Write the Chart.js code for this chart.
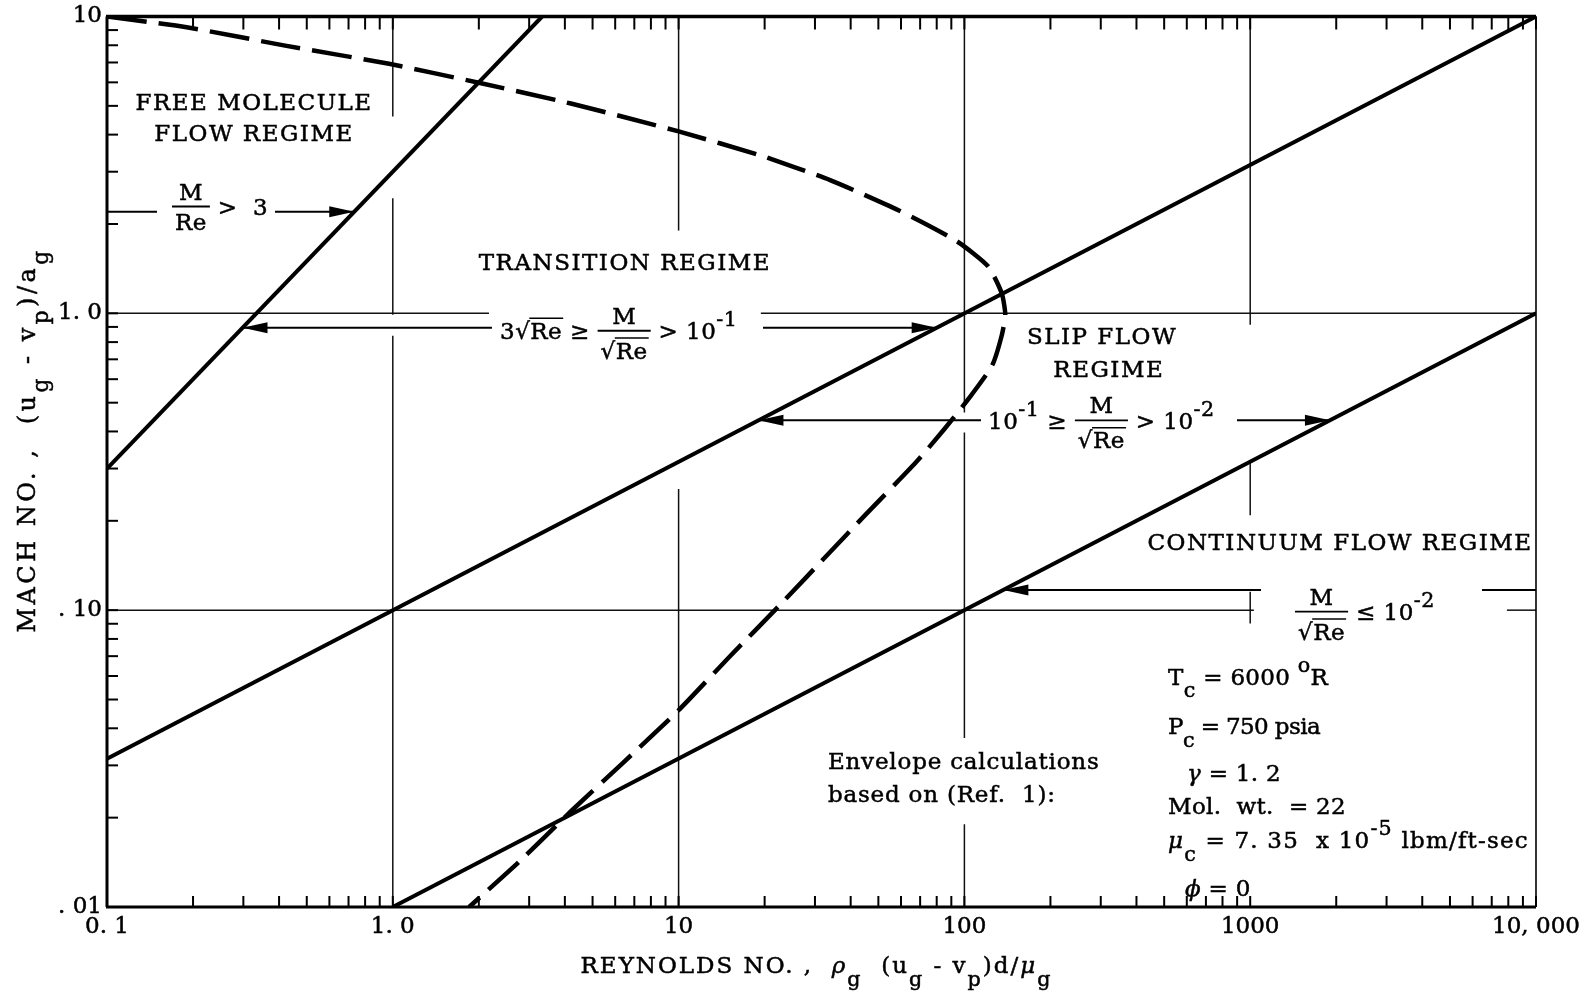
<!DOCTYPE html>
<html>
<head>
<meta charset="utf-8">
<title>Flow regimes</title>
<script src="https://cdn.jsdelivr.net/npm/chart.js@4.4.1/dist/chart.umd.min.js"></script>
<style>
  html, body { margin: 0; padding: 0; background: #fff; }
  canvas { display: block; }
</style>
</head>
<body>
<canvas id="chart" width="1593" height="1001"></canvas>
<script>
// plot limits
const reLimits = [0.1, 10000];
const machLimits = [0.01, 10];

// decade labels as printed on the axes
const reTickText = { 0.1: '0. 1', 1: '1. 0', 10: '10', 100: '100', 1000: '1000', 10000: '10, 000' };
const machTickText = { 0.01: '. 01', 0.1: '. 10', 1: '1. 0', 10: '10' };

// regime boundaries, straight on log-log paper so two ends are enough
const freeMolRe = [0.1, 3.33];        // M/Re = 3
const freeMolMach = [0.3, 10];
const slipUpperRe = [0.1, 10000];     // M/sqrt(Re) = 1e-1
const slipUpperMach = [0.0316, 10];
const slipLowerRe = [1, 10000];       // M/sqrt(Re) = 1e-2
const slipLowerMach = [0.01, 1];

// operating envelope (dashed curve)
const envelopeRe = [0.1, 0.19, 0.42, 0.97, 2.0, 4.2, 10, 19.4, 33.9, 59, 94, 121, 135, 139,
  135, 125, 103, 85, 67.7, 44.5, 33.9, 22.6, 15.1, 10, 6.39, 4.22, 2.79, 1.85];
const envelopeMach = [10, 9.2, 7.98, 6.93, 5.98, 5.09, 4.10, 3.40, 2.81, 2.22, 1.75, 1.44, 1.17, 0.99,
  0.84, 0.667, 0.513, 0.407, 0.315, 0.207, 0.157, 0.104, 0.0698, 0.046, 0.0306, 0.0211, 0.0143, 0.01];

// Mach levels of the leader arrows
const leaderMach = [2.2, 0.894, 0.436, 0.117];

const boundaries = [
  [freeMolRe, freeMolMach],
  [slipUpperRe, slipUpperMach],
  [slipLowerRe, slipLowerMach],
];

// leaders: tail Re next to the text, tip either a fixed Re or the boundary it points at
const leaders = [
  { m: leaderMach[0], tail: 0.1, tip: 0.1496, head: false },
  { m: leaderMach[0], tail: 0.387, onto: 0 },
  { m: leaderMach[1], tail: 2.223, onto: 0 },
  { m: leaderMach[1], tail: 19.74, onto: 1 },
  { m: leaderMach[2], tail: 114.3, onto: 1 },
  { m: leaderMach[2], tail: 899, onto: 2 },
  { m: leaderMach[3], tail: 1091, onto: 2 },
  { m: leaderMach[3], tail: 6471, tip: 10000, head: false },
];

// interrupted stretches of the decade rules (where the lettering sits)
const reRuleGaps = {
  1: [[2.44, 4.6], [0.84, 0.99]],
  10: [[0.256, 1.9]],
  100: [[0.397, 0.463], [0.019, 0.0371]],
  1000: [[0.315, 0.915], [0.1153, 0.209], [0.01, 0.0901]],
};
const machRuleGaps = {
  1: [[2.17, 19.4]],
  0.1: [[1030, 7910]],
};

const rootRe = { root: 'Re' };
const labels = [
  { re: 0.327, m: 5.17, align: 'center', sp: 1.5, runs: ['FREE MOLECULE'] },
  { re: 0.327, m: 4.06, align: 'center', sp: 1.5, runs: ['FLOW REGIME'] },
  { re: 6.49, m: 1.49, align: 'center', sp: 1.5, runs: ['TRANSITION REGIME'] },
  { re: 303, m: 0.84, align: 'center', sp: 1.5, runs: ['SLIP FLOW'] },
  { re: 320, m: 0.652, align: 'center', sp: 1.5, runs: ['REGIME'] },
  { re: 2062, m: 0.17, align: 'center', sp: 1.5, runs: ['CONTINUUM FLOW REGIME'] },
  { re: 33.3, m: 0.031, sp: 0.8, runs: ['Envelope calculations'] },
  { re: 33.3, m: 0.024, sp: 0.8, runs: ['based on (Ref.  1):'] },
  { re: 516, m: 0.0598, sp: 0.3, runs: ['T', { t: 'c', sub: 1 }, ' = 6000 ', { t: 'o', sup: 1 }, 'R'] },
  { re: 516, m: 0.0407, sp: -0.6, runs: ['P', { t: 'c', sub: 1 }, ' = 750 psia'] },
  { re: 601, m: 0.0283, sp: 0.3, runs: [{ t: 'γ', it: 1 }, ' = 1. 2'] },
  { re: 516, m: 0.0219, sp: 0.3, runs: ['Mol.  wt.  = 22'] },
  { re: 516, m: 0.01685, sp: 1.2, runs: [{ t: 'μ', it: 1 }, { t: 'c', sub: 1 }, ' = 7. 35  x 10', { t: '-5', sup: 1 }, ' lbm/ft-sec'] },
  { re: 591, m: 0.01164, sp: 0.3, runs: [{ t: 'ϕ', it: 1 }, ' = 0'] },
  { re: 0.1688, m: 2.29, sp: 0.5, runs: [{ frac: [['M'], ['Re']] }, ' >  3'] },
  { re: 2.372, m: 0.8736, sp: 0.5, runs: ['3', rootRe, ' ≥ ', { frac: [['M'], [rootRe]] }, ' > 10', { t: '-1', sup: 1 }] },
  { re: 121, m: 0.436, sp: 0.5, runs: ['10', { t: '-1', sup: 1 }, ' ≥ ', { frac: [['M'], [rootRe]] }, ' > 10', { t: '-2', sup: 1 }] },
  { re: 1435, m: 0.0988, sp: 0.5, runs: [{ frac: [['M'], [rootRe]] }, ' ≤ 10', { t: '-2', sup: 1 }] },
];

const yTitle = ['MACH NO. ,  (u', { t: 'g', sub: 1 }, ' - v', { t: 'p', sub: 1 }, ')/a', { t: 'g', sub: 1 }];
const xTitle = ['REYNOLDS NO. ,  ', { t: 'ρ', it: 1 }, { t: 'g', sub: 1 }, '  (u', { t: 'g', sub: 1 },
  ' - v', { t: 'p', sub: 1 }, ')d/', { t: 'μ', it: 1 }, { t: 'g', sub: 1 }];

const SERIF = '"DejaVu Serif", "Liberation Serif", serif';
const FS = 23;

const log = Math.log10;
const isDecade = v => Math.abs(log(v) - Math.round(log(v))) < 1e-6;
const isWhole = v => {
  const m = v / Math.pow(10, Math.floor(log(v) + 1e-9));
  return Math.abs(m - Math.round(m)) < 1e-6;
};
const decadeKey = v => Math.pow(10, Math.round(log(v)));
const points = (xs, ys) => xs.map((x, i) => ({ x, y: ys[i] }));

function reOnBoundary(idx, m) {
  const [res, machs] = boundaries[idx];
  const t = (log(m) - log(machs[0])) / (log(machs[1]) - log(machs[0]));
  return Math.pow(10, log(res[0]) + t * (log(res[1]) - log(res[0])));
}

function setFont(ctx, size, italic) {
  ctx.font = (italic ? 'italic ' : '') + size + 'px ' + SERIF;
}

function line(ctx, x0, y0, x1, y1) {
  ctx.beginPath();
  ctx.moveTo(x0, y0);
  ctx.lineTo(x1, y1);
  ctx.stroke();
}

// filled text with a hairline stroke so it reads as heavy as the inked lettering
function ink(ctx, t, x, y) {
  ctx.fillText(t, x, y);
  ctx.lineWidth = 0.5;
  ctx.strokeText(t, x, y);
}

// one piece of lettering: plain text, sub/superscript, radical or stacked fraction
function piece(ctx, r, s, x, y, draw) {
  if (typeof r === 'string') r = { t: r };
  if (r.frac) {
    const [num, den] = r.frac;
    const wn = runsWidth(ctx, num, s), wd = runsWidth(ctx, den, s);
    const w = Math.max(wn, wd) + 6;
    if (draw) {
      const bar = y - s * 0.36;
      const rooted = den.some(p => p.root);
      drawRuns(ctx, num, x + (w - wn) / 2, bar - s * 0.3, s);
      drawRuns(ctx, den, x + (w - wd) / 2, bar + s * (rooted ? 1.22 : 1.0), s);
      ctx.lineWidth = 1.8;
      line(ctx, x, bar, x + w, bar);
    }
    return w;
  }
  if (r.root) {
    setFont(ctx, s);
    const w0 = ctx.measureText('√').width, w1 = ctx.measureText(r.root).width;
    if (draw) {
      ink(ctx, '√', x, y);
      ink(ctx, r.root, x + w0, y);
      ctx.lineWidth = 1.5;
      line(ctx, x + w0 - 1, y - s * 0.9, x + w0 + w1 + 1, y - s * 0.9);
    }
    return w0 + w1;
  }
  const size = r.sub || r.sup ? s * 0.9 : s;
  setFont(ctx, size, r.it);
  const dy = r.sub ? s * 0.55 : r.sup ? -s * 0.55 : 0;
  if (draw) ink(ctx, r.t, x, y + dy);
  return ctx.measureText(r.t).width;
}

function runsWidth(ctx, runs, s) {
  return runs.reduce((w, r) => w + piece(ctx, r, s, 0, 0, false), 0);
}

function drawRuns(ctx, runs, x, y, s) {
  runs.forEach(r => { x += piece(ctx, r, s, x, y, true); });
}

// spans of [lo, hi] left open by the gaps
function openSpans(lo, hi, gaps) {
  const spans = [];
  let cur = lo;
  (gaps || []).slice().sort((p, q) => p[0] - q[0]).forEach(([g0, g1]) => {
    if (g0 > cur) spans.push([cur, g0]);
    cur = Math.max(cur, g1);
  });
  if (cur < hi) spans.push([cur, hi]);
  return spans;
}

const paperArt = {
  id: 'paperArt',
  beforeDatasetsDraw(chart) {
    const { ctx, scales: { x, y } } = chart;
    ctx.save();
    ctx.strokeStyle = '#111';
    ctx.lineWidth = 1.5;
    x.ticks.map(t => t.value).filter(v => isDecade(v) && v > reLimits[0] && v < reLimits[1]).forEach(v => {
      const px = x.getPixelForValue(v);
      openSpans(machLimits[0], machLimits[1], reRuleGaps[decadeKey(v)]).forEach(([a, b]) => {
        line(ctx, px, y.getPixelForValue(a), px, y.getPixelForValue(b));
      });
    });
    y.ticks.map(t => t.value).filter(v => isDecade(v) && v > machLimits[0] && v < machLimits[1]).forEach(v => {
      const py = y.getPixelForValue(v);
      openSpans(reLimits[0], reLimits[1], machRuleGaps[decadeKey(v)]).forEach(([a, b]) => {
        line(ctx, x.getPixelForValue(a), py, x.getPixelForValue(b), py);
      });
    });
    ctx.restore();
  },
  afterDatasetsDraw(chart) {
    const { ctx, chartArea: a, scales: { x, y } } = chart;
    ctx.save();
    ctx.strokeStyle = '#000';
    ctx.fillStyle = '#000';

    // frame
    ctx.lineWidth = 3.5;
    line(ctx, a.left - 1, a.top, a.right, a.top);
    ctx.lineWidth = 3;
    line(ctx, a.left, a.top, a.left, a.bottom);
    line(ctx, a.left - 1, a.bottom, a.right, a.bottom);
    ctx.lineWidth = 1.6;
    line(ctx, a.right, a.top, a.right, a.bottom);

    // inward ticks on the frame
    ctx.lineWidth = 2;
    x.ticks.map(t => t.value).filter(isWhole).forEach(v => {
      const px = x.getPixelForValue(v);
      line(ctx, px, a.top, px, a.top + 13);
      line(ctx, px, a.bottom, px, a.bottom - 11);
    });
    y.ticks.map(t => t.value).filter(isWhole).forEach(v => {
      const py = y.getPixelForValue(v);
      line(ctx, a.left, py, a.left + 11, py);
    });

    // leader arrows
    ctx.lineWidth = 2;
    leaders.forEach(ld => {
      const tipRe = ld.onto !== undefined ? reOnBoundary(ld.onto, ld.m) : ld.tip;
      const py = y.getPixelForValue(ld.m);
      const x0 = x.getPixelForValue(ld.tail), x1 = x.getPixelForValue(tipRe);
      line(ctx, x0, py, x1, py);
      if (ld.head !== false) {
        const dir = Math.sign(x1 - x0);
        ctx.beginPath();
        ctx.moveTo(x1, py);
        ctx.lineTo(x1 - dir * 25, py - 5.5);
        ctx.lineTo(x1 - dir * 25, py + 5.5);
        ctx.closePath();
        ctx.fill();
      }
    });

    // lettering
    ctx.textAlign = 'left';
    ctx.textBaseline = 'alphabetic';
    labels.forEach(lb => {
      ctx.letterSpacing = (lb.sp || 0) + 'px';
      const px = x.getPixelForValue(lb.re), py = y.getPixelForValue(lb.m);
      const w = runsWidth(ctx, lb.runs, FS);
      const left = lb.align === 'center' ? px - w / 2 : px;
      drawRuns(ctx, lb.runs, left, py + FS * 0.36, FS);
    });

    // axis titles
    ctx.letterSpacing = '2px';
    const wx = runsWidth(ctx, xTitle, FS);
    drawRuns(ctx, xTitle, (a.left + a.right) / 2 - wx / 2 - 5, 973, FS);
    ctx.letterSpacing = '3.5px';
    const wy = runsWidth(ctx, yTitle, 24);
    ctx.save();
    ctx.translate(26 + 24 * 0.36, 440);
    ctx.rotate(-Math.PI / 2);
    drawRuns(ctx, yTitle, -wy / 2, 0, 24);
    ctx.restore();

    ctx.restore();
  }
};

const solid = { showLine: true, pointRadius: 0, borderColor: '#000', borderWidth: 4, tension: 0, fill: false };
const tickFont = { family: SERIF, size: FS, lineHeight: 1 };

new Chart(document.getElementById('chart'), {
  type: 'scatter',
  data: {
    datasets: [
      { ...solid, label: 'M/Re = 3', data: points(freeMolRe, freeMolMach) },
      { ...solid, label: 'M/sqrt(Re) = 0.1', data: points(slipUpperRe, slipUpperMach) },
      { ...solid, label: 'M/sqrt(Re) = 0.01', data: points(slipLowerRe, slipLowerMach) },
      { ...solid, label: 'envelope', data: points(envelopeRe, envelopeMach),
        borderWidth: 4.5, borderDash: [40, 12], tension: 0.2 },
    ]
  },
  options: {
    responsive: false,
    animation: false,
    events: [],
    layout: { padding: { top: 12, right: 57, bottom: 0, left: 0 } },
    plugins: { legend: { display: false }, tooltip: { enabled: false } },
    scales: {
      x: {
        type: 'logarithmic',
        min: reLimits[0],
        max: reLimits[1],
        grid: { display: false, drawTicks: false },
        border: { display: false },
        ticks: {
          autoSkip: false,
          maxRotation: 0,
          minRotation: 0,
          padding: 9,
          color: '#000',
          textStrokeColor: '#000',
          textStrokeWidth: 0.5,
          font: tickFont,
          callback: v => isDecade(v) ? reTickText[decadeKey(v)] : ''
        },
        afterFit: s => { s.height = 94; }
      },
      y: {
        type: 'logarithmic',
        min: machLimits[0],
        max: machLimits[1],
        grid: { display: false, drawTicks: false },
        border: { display: false },
        ticks: {
          autoSkip: false,
          padding: 5,
          color: '#000',
          textStrokeColor: '#000',
          textStrokeWidth: 0.5,
          font: tickFont,
          callback: v => isDecade(v) ? machTickText[decadeKey(v)] : ''
        },
        afterFit: s => { s.width = 107; }
      }
    }
  },
  plugins: [paperArt]
});
</script>
</body>
</html>
